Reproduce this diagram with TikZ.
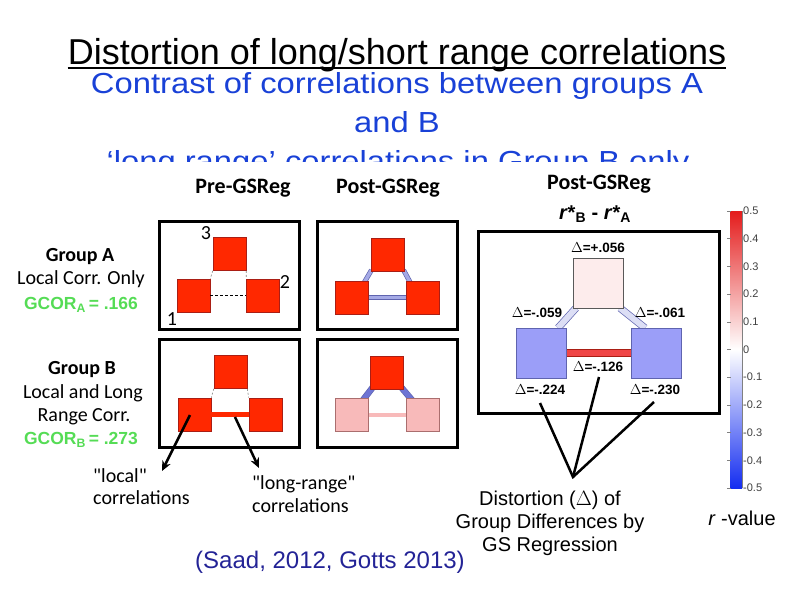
\documentclass[tikz,border=0pt]{standalone}
\usepackage{fontspec}
\usepackage{graphicx}
\setmainfont{Liberation Sans}
\newfontfamily\calib{Carlito}
\usetikzlibrary{arrows.meta}
\newcommand\myfs[1]{\fontsize{#1}{#1}\selectfont}
\definecolor{subblue}{RGB}{25,65,215}
\definecolor{citeblue}{RGB}{35,35,150}
\definecolor{gcor}{RGB}{85,220,85}
\definecolor{sqred}{RGB}{255,40,0}
\definecolor{sqredd}{RGB}{170,30,20}
\definecolor{sqpink}{RGB}{248,186,186}
\definecolor{sqpinkd}{RGB}{170,110,110}
\definecolor{lav}{RGB}{165,170,230}
\definecolor{lavd}{RGB}{95,100,175}
\definecolor{blu}{RGB}{110,116,212}
\definecolor{rsq}{RGB}{155,158,248}
\definecolor{rtop}{RGB}{253,236,236}
\definecolor{rdiag}{RGB}{220,222,245}
\definecolor{rbar}{RGB}{240,70,70}
\definecolor{cbred}{RGB}{228,28,28}
\definecolor{cbblue}{RGB}{20,45,240}
\begin{document}
\begin{tikzpicture}[x=1pt,y=-1pt,
  frm/.style={draw=black,line width=3pt,inner sep=0,minimum width=140pt,minimum height=108pt},
  sq/.style={rectangle,draw=sqredd,line width=0.6pt,fill=sqred,minimum size=33pt,inner sep=0},
  psq/.style={rectangle,draw=sqpinkd,line width=0.6pt,fill=sqpink,minimum size=33pt,inner sep=0},
  bsq/.style={rectangle,draw=#1,line width=0.8pt,minimum size=50pt,inner sep=0},
  tube/.style n args={3}{draw=#1,double=#2,double distance=#3,line width=0.7pt},
  lbl/.style={font=\calib\myfs{20},inner sep=0},
  hdr/.style={font=\calib\bfseries\myfs{22},inner sep=0},
  dl/.style={font=\bfseries\myfs{13.5},inner sep=0},
  gc/.style={font=\bfseries\myfs{17.5},text=gcor,inner sep=0},
  sub/.style={anchor=base,inner sep=0,font=\myfs{29},text=subblue},
  dsh/.style={dashed,line width=0.9pt,dash pattern=on 3pt off 2pt},
  dshg/.style={line width=0.6pt,draw=gray,dash pattern=on 2pt off 2pt},
  arr/.style={line width=2.5pt,-{Stealth[length=10pt,width=9pt]}},
  pt/.style={line width=2.5pt}
]
\useasboundingbox (0,0) rectangle (793,595);
% titles
\node[anchor=base,inner sep=0,font=\myfs{36}] (title) at (397,64) {Distortion of long/short range correlations};
\draw[line width=2pt] ([yshift=-4pt]title.base west) -- ([yshift=-4pt]title.base east);
\node[sub] (sub1) at (397,93) {\scalebox{1.13}[1]{Contrast of correlations between groups A}};
\node[sub] (sub2) at (397,132.5) {\scalebox{1.13}[1]{and B}};
\begin{scope}
\clip (0,0) rectangle (793,161);
\node[sub] (sub3) at (398,171) {\scalebox{1.13}[1]{‘long range’ correlations in Group B only}};
\end{scope}

% column headers
\node[hdr] (hpre) at (243,188) {Pre-GSReg};
\node[hdr] (hpost) at (388,188) {Post-GSReg};
\node[hdr] (hpost2) at (599,184) {Post-GSReg};
\node[font=\bfseries\myfs{20},inner sep=0] (rdiff) at (595,214) {\textit{r}*\textsubscript{B} - \textit{r}*\textsubscript{A}};

% row labels
\node[lbl,font=\calib\bfseries\myfs{20}] (ga) at (80,257) {Group A};
\node[lbl] (ga2) at (81,279) {Local Corr. Only};
\node[gc] (gca) at (81,305) {GCOR\textsubscript{A}\,= .166};
\node[lbl,font=\calib\bfseries\myfs{20}] (gb) at (82,370) {Group B};
\node[lbl] (gb2) at (83,393) {Local and Long};
\node[lbl] (gb3) at (84,417) {Range Corr.};
\node[gc] (gcb) at (81,440) {GCOR\textsubscript{B}\,= .273};

% frames
\node[frm] (fap) at (229,275) {};
\node[frm] (fao) at (387,275) {};
\node[frm] (fbp) at (229,393.5) {};
\node[frm] (fbo) at (387,393.5) {};

% A pre
\node[sq] (apT) at (229.5,254) {};
\node[sq] (apL) at (193.5,295.5) {};
\node[sq] (apR) at (263,295.5) {};
\draw[dsh] (apL.east) -- (apR.west);
\draw[dshg] (apT.south west) -- (apL.north east);
\draw[dshg] (apT.south east) -- (apR.north west);
\node[lbl] (n3) at (206,233) {3};
\node[lbl] (n2) at (285,282) {2};
\node[lbl] (n1) at (172,319) {1};

% A post
\coordinate (aoTc) at (387.5,254.5);
\coordinate (aoLc) at (351.5,297.5);
\coordinate (aoRc) at (423,297.5);
\draw[tube={lavd}{lav}{3.5pt}] ([xshift=-16pt]aoTc |- 0,270) -- ([xshift=13pt]aoLc |- 0,282);
\draw[tube={lavd}{lav}{3.5pt}] ([xshift=16pt]aoTc |- 0,270) -- ([xshift=-13pt]aoRc |- 0,282);
\draw[tube={lavd}{lav}{3.5pt}] (aoLc) -- (aoRc);
\node[sq] (aoT) at (aoTc) {};
\node[sq] (aoL) at (aoLc) {};
\node[sq] (aoR) at (aoRc) {};

% B pre
\node[sq] (bpT) at (230.5,372) {};
\node[sq] (bpL) at (194.5,414.5) {};
\node[sq] (bpR) at (265.5,414.5) {};
\draw[tube={sqredd}{sqred}{4.5pt}] (bpL.east) -- (bpR.west);
\draw[dshg] (bpT.south west) -- (bpL.north east);
\draw[dshg] (bpT.south east) -- (bpR.north west);

% B post
\coordinate (boTc) at (387,372.5);
\coordinate (boLc) at (352,415);
\coordinate (boRc) at (423,415);
\draw[tube={lavd}{blu}{5pt}] ([xshift=-14pt]boTc |- 0,387) -- ([xshift=11pt]boLc |- 0,400);
\draw[tube={lavd}{blu}{5pt}] ([xshift=14pt]boTc |- 0,387) -- ([xshift=-11pt]boRc |- 0,400);
\draw[tube={sqpinkd}{sqpink}{3.5pt}] (boLc) -- (boRc);
\node[sq] (boT) at (boTc) {};
\node[psq] (boL) at (boLc) {};
\node[psq] (boR) at (boRc) {};

% arrows
\coordinate (a1s) at (190,415);
\coordinate (a1e) at (162,471);
\coordinate (a2s) at (235,417);
\coordinate (a2e) at (259,468);
\draw[arr] (a1s) -- (a1e);
\draw[arr] (a2s) -- (a2e);
\node[lbl,anchor=base west] (loc1) at (93,482) {"local"};
\node[lbl,anchor=base west] (loc2) at (93,504) {correlations};
\node[lbl,anchor=base west] (lr1) at (252,489) {"long-range"};
\node[lbl,anchor=base west] (lr2) at (252,512) {correlations};

% right panel
\draw[line width=3pt] (478,231) rectangle (719,413);
\coordinate (rTc) at (598,283);
\coordinate (rLc) at (541.5,353);
\coordinate (rRc) at (656.5,353);
\draw[tube={lavd}{rdiag}{6pt}] (576,308) -- (558,328);
\draw[tube={lavd}{rdiag}{6pt}] (620,308) -- (645,328);
\draw[tube={sqredd}{rbar}{6pt}] (rLc) -- (rRc);
\node[bsq=gray!70!black,fill=rtop] (rT) at (rTc) {};
\node[bsq=lavd,fill=rsq] (rL) at (rLc) {};
\node[bsq=lavd,fill=rsq] (rR) at (rRc) {};
\node[dl] (d1) at (598,248) {$\Delta$=+.056};
\node[dl] (d2) at (537,313) {$\Delta$=-.059};
\node[dl] (d3) at (660,313) {$\Delta$=-.061};
\node[dl] (d4) at (598,367) {$\Delta$=-.126};
\node[dl] (d5) at (540,390) {$\Delta$=-.224};
\node[dl] (d6) at (655,390) {$\Delta$=-.230};
\coordinate (conv) at (573,477);
\coordinate (p1) at (540,403);
\coordinate (p2) at (599,377);
\coordinate (p3) at (654,402);
\draw[pt] (p1) -- (conv) -- (p3);
\draw[pt] (p2) -- (conv);
\node[font=\myfs{20},inner sep=0,anchor=base] (dt1) at (550,505) {Distortion ($\Delta$) of};
\node[font=\myfs{20},inner sep=0,anchor=base] (dt2) at (550,528) {Group Differences by};
\node[font=\myfs{20},inner sep=0,anchor=base] (dt3) at (550,551) {GS Regression};

% colorbar
\shade[top color=cbred,bottom color=cbblue,middle color=white] (730,211) rectangle (742,488);
\draw[gray,line width=0.5pt] (742,211) -- (742,488);
\foreach \v/\t in {0.5/0.5,0.4/0.4,0.3/0.3,0.2/0.2,0.1/0.1,0/0,-0.1/-0.1,-0.2/-0.2,-0.3/-0.3,-0.4/-0.4,-0.5/-0.5}{
  \draw[gray,line width=0.6pt] (727,{349.5-\v*277}) -- (731,{349.5-\v*277});
  \node[anchor=west,inner sep=0,font=\myfs{11},text=black!75] at (743,{349.5-\v*277}) {\t};
}
\node[font=\myfs{20},inner sep=0,anchor=base] (rv) at (742,525) {\textit{r} -value};

% citation
\node[font=\myfs{24},text=citeblue,inner sep=0,anchor=base] (cite) at (330,568) {(Saad, 2012, Gotts 2013)};
\end{tikzpicture}
\end{document}
